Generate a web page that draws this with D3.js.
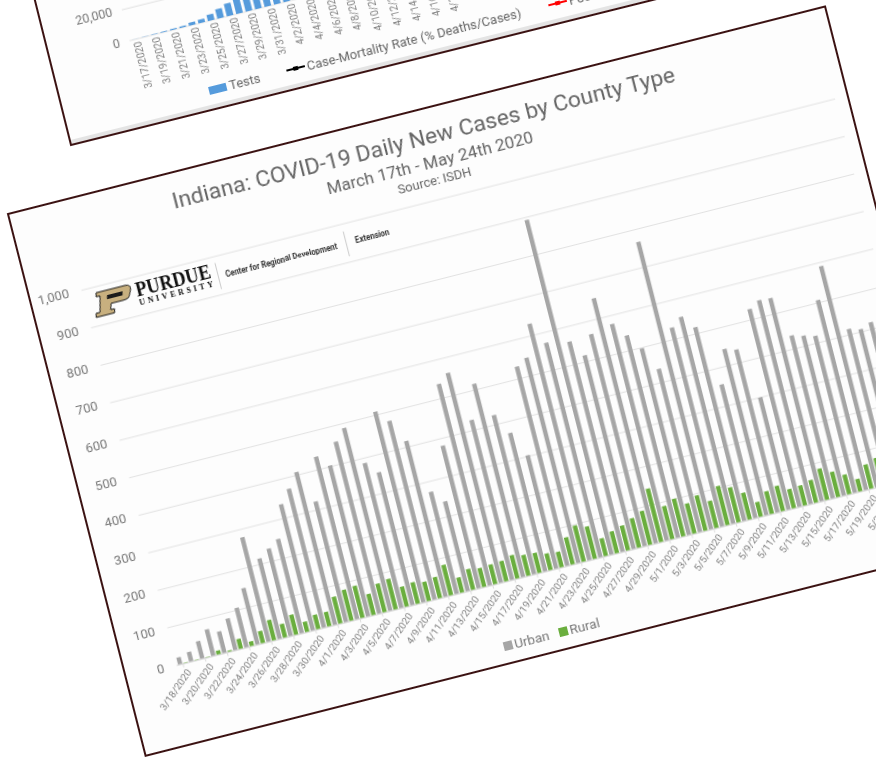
<!DOCTYPE html>
<html>
<head>
<meta charset="utf-8">
<script src="https://cdn.jsdelivr.net/npm/d3@7"></script>
<style>
html, body { margin: 0; padding: 0; background: #fff; overflow: hidden; }
svg { display: block; font-family: Roboto, sans-serif; }
.soft { filter: blur(0.45px); }
</style>
</head>
<body>
<div id="chart"></div>
<script>
// daily new cases chart data
var dates = ["3/18/2020","3/19/2020","3/20/2020","3/21/2020","3/22/2020","3/23/2020","3/24/2020","3/25/2020","3/26/2020","3/27/2020","3/28/2020","3/29/2020","3/30/2020","3/31/2020",
    "4/1/2020","4/2/2020","4/3/2020","4/4/2020","4/5/2020","4/6/2020","4/7/2020","4/8/2020","4/9/2020","4/10/2020","4/11/2020","4/12/2020","4/13/2020","4/14/2020","4/15/2020","4/16/2020","4/17/2020","4/18/2020","4/19/2020","4/20/2020","4/21/2020","4/22/2020","4/23/2020","4/24/2020","4/25/2020","4/26/2020","4/27/2020","4/28/2020","4/29/2020","4/30/2020",
    "5/1/2020","5/2/2020","5/3/2020","5/4/2020","5/5/2020","5/6/2020","5/7/2020","5/8/2020","5/9/2020","5/10/2020","5/11/2020","5/12/2020","5/13/2020","5/14/2020","5/15/2020","5/16/2020","5/17/2020","5/18/2020","5/19/2020","5/20/2020","5/21/2020","5/22/2020","5/23/2020","5/24/2020"];
var urban = [18,25,46,70,57,84,105,150,278,214,233,251,336,370,407,321,433,402,458,487,386,354,508,476,415,272,239,380,537,559,426,515,424,369,302,531,547,630,572,892,560,516,565,653,577,539,497,435,766,530,551,516,356,443,434,299,527,543,541,434,426,418,506,589,414,406,417,380];
var rural = [1,1,1,10,3,26,12,32,54,36,53,27,38,38,71,82,85,56,76,81,53,57,51,56,81,40,55,50,52,54,62,55,53,44,41,72,96,86,47,58,66,78,90,142,88,100,80,94,72,104,93,71,39,60,67,51,53,60,83,67,52,33,64,74,60,55,50,45];
var yTicks = [0,100,200,300,400,500,600,700,800,900,1000];
var seriesNames = ["Urban","Rural"];
var seriesColors = ["#a6a6a6","#6aae3e"];

// the chart behind it, only its lower corner shows
var backDates = ["3/17/2020","3/19/2020","3/21/2020","3/23/2020","3/25/2020","3/27/2020","3/29/2020","3/31/2020","4/2/2020","4/4/2020","4/6/2020","4/8/2020","4/10/2020","4/12/2020","4/14/2020","4/16/2020","4/18/2020"];
var backDays = ["3/17","3/18","3/19","3/20","3/21","3/22","3/23","3/24","3/25","3/26","3/27","3/28","3/29","3/30","3/31","4/1","4/2","4/3"];
var backTests = [50,150,300,500,750,900,1900,2250,3900,6000,8000,10000,11000,12000,12500,13000,14000,15000];
var backTicks = [0,20000,40000];

var svgWidth = 876;
var svgHeight = 757;

var svg = d3.select("#chart").append("svg").attr("width",svgWidth).attr("height",svgHeight);

// back chart
var back = svg.append("g").attr("class","soft")
    .attr("transform","translate(71,145) rotate(-14)");

back.append("rect").attr("x",0).attr("y",-700).attr("width",843).attr("height",700)
    .attr("fill","#fdfdfd");
back.append("rect").attr("x",1).attr("y",-5).attr("width",841).attr("height",4)
    .attr("fill","#e4e4e4");
back.append("path").attr("d","M0,-700V0H843V-700")
    .attr("fill","none").attr("stroke","#3b1212").attr("stroke-width",2);

var backBottom = -87;
var backX = d3.scaleBand().domain(backDays).range([82,82 + 9.9 * backDays.length]).padding(0.3);
var backY = d3.scaleLinear().domain([0,20000]).range([backBottom,backBottom - 31.8]);

back.append("g").selectAll("line").data(backTicks).join("line")
    .attr("x1",82).attr("x2",700)
    .attr("y1",d => backY(d)).attr("y2",d => backY(d))
    .attr("stroke","#e0e0e0");
back.append("g").selectAll("text").data(backTicks).join("text")
    .attr("x",72).attr("y",d => backY(d) + 4)
    .attr("text-anchor","end").attr("font-size",12.5).attr("fill","#777")
    .text(d => d3.format(",")(d));
back.append("g").selectAll("rect").data(backTests).join("rect")
    .attr("x",(d,i) => backX(backDays[i]))
    .attr("y",d => backY(d))
    .attr("width",backX.bandwidth())
    .attr("height",d => backBottom - backY(d))
    .attr("fill","#559bdc");
back.append("g").selectAll("text").data(backDates).join("text")
    .attr("transform",(d,i) => `translate(${89 + 9.9 * 2 * i},${backBottom + 3}) rotate(-90)`)
    .attr("text-anchor","end").attr("dy","0.35em")
    .attr("font-size",10).attr("fill","#808080")
    .text(d => d);

// back chart legend
back.append("rect").attr("x",147).attr("y",-23).attr("width",18).attr("height",8).attr("fill","#559bdc");
back.append("text").attr("x",168).attr("y",-15).attr("font-size",13).attr("fill","#666").text("Tests");
back.append("line").attr("x1",227).attr("x2",246).attr("y1",-20).attr("y2",-20).attr("stroke","#000").attr("stroke-width",2);
back.append("rect").attr("x",234).attr("y",-22).attr("width",5).attr("height",4).attr("fill","#000");
back.append("text").attr("x",248).attr("y",-15).attr("font-size",13).attr("fill","#666").text("Case-Mortality Rate (% Deaths/Cases)");
back.append("line").attr("x1",497).attr("x2",516).attr("y1",-20).attr("y2",-20).attr("stroke","#f00").attr("stroke-width",2);
back.append("rect").attr("x",504).attr("y",-22).attr("width",5).attr("height",4).attr("fill","#f00");
back.append("text").attr("x",518).attr("y",-15).attr("font-size",13).attr("fill","#666").text("Positive Rate");

// front chart
var frameWidth = 843;
var frameHeight = 559;
var margin = { top: 91.6, left: 52.5, right: 13, bottom: 80.4 };
var width = frameWidth - margin.left - margin.right;
var height = frameHeight - margin.top - margin.bottom;

var frame = svg.append("g").attr("class","soft")
    .attr("transform","translate(8,214) rotate(-14.25)");

frame.append("rect").attr("width",frameWidth).attr("height",frameHeight)
    .attr("fill","#fdfdfd").attr("stroke","#3b1212").attr("stroke-width",2);

// titles
frame.append("text").attr("x",frameWidth / 2).attr("y",36).attr("text-anchor","middle")
    .attr("font-size",22.8).attr("fill","#666").text("Indiana: COVID-19 Daily New Cases by County Type");
frame.append("text").attr("x",frameWidth / 2).attr("y",60).attr("text-anchor","middle")
    .attr("font-size",17).attr("fill","#666").text("March 17th - May 24th 2020");
frame.append("text").attr("x",frameWidth / 2).attr("y",77).attr("text-anchor","middle")
    .attr("font-size",13).attr("fill","#666").text("Source: ISDH");

var chartGroup = frame.append("g")
    .attr("transform",`translate(${margin.left}, ${margin.top})`);

var xScale = d3.scaleBand().domain(dates).range([0,width]).padding(0.12);
var seriesScale = d3.scaleBand().domain(seriesNames).range([0,xScale.bandwidth()]).paddingInner(0.2);
var yScale = d3.scaleLinear().domain([0,1000]).range([height,0]);

// gridlines and y labels
var leftAxis = d3.axisLeft(yScale).tickValues(yTicks).tickSize(-width).tickPadding(13).tickFormat(d3.format(","));
var yAxis = chartGroup.append("g").call(leftAxis);
yAxis.select(".domain").remove();
yAxis.selectAll("line").attr("stroke",d => d === 0 ? "#cfcfcf" : "#e2e2e2");
yAxis.selectAll("text").attr("font-size",13).attr("fill","#777").attr("font-family","Roboto, sans-serif");

// x labels every other day
var bottomAxis = d3.axisBottom(xScale).tickValues(dates.filter((d,i) => i % 2 === 0)).tickSize(4).tickPadding(5);
var xAxis = chartGroup.append("g").attr("transform",`translate(0,${height})`).call(bottomAxis);
xAxis.select(".domain").remove();
xAxis.selectAll("line").attr("stroke","#dcdcdc");
xAxis.selectAll("text")
    .attr("transform","rotate(-41) translate(-2,1)")
    .attr("text-anchor","end")
    .attr("dy","0.35em")
    .attr("y",8)
    .attr("font-size",10).attr("fill","#808080").attr("font-family","Roboto, sans-serif");

// bars
chartGroup.append("g").selectAll("rect").data(urban).join("rect")
    .attr("x",(d,i) => xScale(dates[i]) + seriesScale("Urban"))
    .attr("y",d => yScale(d))
    .attr("width",seriesScale.bandwidth())
    .attr("height",d => height - yScale(d))
    .attr("fill",seriesColors[0]);
chartGroup.append("g").selectAll("rect").data(rural).join("rect")
    .attr("x",(d,i) => xScale(dates[i]) + seriesScale("Rural"))
    .attr("y",d => yScale(d))
    .attr("width",seriesScale.bandwidth())
    .attr("height",d => height - yScale(d))
    .attr("fill",seriesColors[1]);

// legend
var legendX = [374,431];
frame.append("g").selectAll("rect").data(seriesNames).join("rect")
    .attr("x",(d,i) => legendX[i]).attr("y",537).attr("width",9).attr("height",9)
    .attr("fill",(d,i) => seriesColors[i]);
frame.append("g").selectAll("text").data(seriesNames).join("text")
    .attr("x",(d,i) => legendX[i] + 11).attr("y",546)
    .attr("font-size",13.5).attr("fill","#777").text(d => d);

// purdue logo block
var logo = frame.append("g");
logo.append("path")
    .attr("d","M66,98H96Q102,98 100,104L98,108Q97,112 90,112H78L76,118H80L79,122H60L61,118H65L69,102H65Z")
    .attr("fill","#c8b07f").attr("stroke","#1b1b1b").attr("stroke-width",1);
logo.append("path").attr("d","M76,103H92L91,107H75Z").attr("fill","#1b1b1b");
logo.append("text").attr("x",105).attr("y",111.5).attr("font-family","Liberation Serif, serif").attr("font-weight","bold")
    .attr("font-size",20).attr("textLength",77).attr("lengthAdjust","spacingAndGlyphs").attr("fill","#111").text("PURDUE");
logo.append("text").attr("x",105.5).attr("y",120.7).attr("font-family","Liberation Serif, serif").attr("font-weight","bold")
    .attr("font-size",8).attr("textLength",76).attr("fill","#111").text("UNIVERSITY");
logo.append("line").attr("x1",188.5).attr("x2",188.5).attr("y1",98.5).attr("y2",125.3).attr("stroke","#ccc");
logo.append("text").attr("x",196).attr("y",114.5).attr("font-weight","bold")
    .attr("font-size",8.5).attr("textLength",115).attr("lengthAdjust","spacingAndGlyphs").attr("fill","#333").text("Center for Regional Development");
logo.append("line").attr("x1",320.6).attr("x2",320.6).attr("y1",99.5).attr("y2",125).attr("stroke","#ccc");
logo.append("text").attr("x",330).attr("y",114).attr("font-weight","bold")
    .attr("font-size",8.5).attr("textLength",35).attr("lengthAdjust","spacingAndGlyphs").attr("fill","#333").text("Extension");
</script>
</body>
</html>
